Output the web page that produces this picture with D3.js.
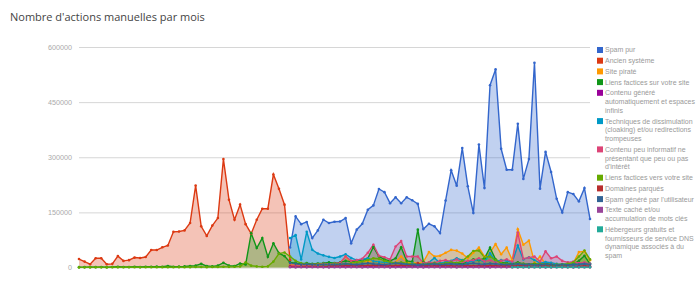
<!DOCTYPE html>
<html>
<head>
<meta charset="utf-8">
<script src="https://cdn.jsdelivr.net/npm/d3@7"></script>
<style>
    body { margin: 0; background: #fff; }
    svg text { font-family: Arial, "Liberation Sans", sans-serif; }
</style>
</head>
<body>
<script>
    // month index 0..92 (x axis is unlabeled in the original)
    const months = d3.range(93);
    const yTicks = [0, 150000, 300000, 450000, 600000];

    // series values, each starting at the month index given in `series` below
    const spamPur = [54500, 139000, 118000, 124000, 80000, 101000, 130000, 121000, 124500, 125000,
        134500, 66000, 103000, 119000, 157000, 169000, 213600, 205000, 175000, 191000,
        175000, 191000, 183000, 173000, 104500, 119000, 112000, 93600, 182000, 264500,
        222700, 325000, 221000, 148000, 334500, 216000, 496000, 539000, 323000, 266000,
        266000, 391000, 241000, 295000, 557000, 214500, 314500, 260000, 187000, 150000,
        205000, 200000, 180000, 216000, 132000];
    const ancienSysteme = [23000, 16000, 9000, 25000, 25000, 9000, 10000, 31000, 18000, 20000,
        27000, 26000, 28500, 47500, 47500, 55000, 60000, 97000, 98000, 101000,
        121000, 223000, 112000, 86000, 114000, 134500, 295000, 184500, 130000, 171000,
        118000, 92000, 130000, 160000, 160000, 253000, 214000, 171000, 20000];
    const sitePirate = [10000, 8000, 7000, 6000, 5000, 6000, 8000, 10000, 9000, 12000,
        30000, 12000, 15000, 18000, 15000, 20000, 14000, 12000, 10000, 15000,
        30000, 15000, 14000, 12000, 15000, 42000, 30000, 32000, 40000, 48000,
        46000, 38000, 25000, 40000, 54000, 30000, 40000, 64000, 36000, 54000,
        20000, 104000, 62000, 73000, 14000, 30000, 10000, 12000, 8000, 6000,
        10000, 12000, 42000, 44000, 20000];
    const liensSur = [1000, 1000, 1500, 1000, 1500, 1000, 1500, 2000, 1500, 1500,
        2000, 1500, 2000, 2000, 2500, 2000, 4000, 2000, 2500, 3000,
        4000, 5000, 10000, 4000, 3000, 5000, 13000, 5000, 4000, 11000,
        8000, 93000, 53000, 80000, 29000, 66000, 39000, 31000,
        14000, 12000, 10000, 12000, 10000, 11000, 12000, 14000, 12000, 14000,
        18000, 16000, 18000, 20000, 25000, 56000, 30000, 22000, 18000, 25000,
        55000, 18000, 16000, 103000, 15000, 10000, 12000, 10000, 12000, 14000,
        12000, 10000, 15000, 22000, 20000, 25000, 54000, 22000, 14000, 12000,
        10000, 14000, 10000, 8000, 10000, 8000, 10000, 8000, 6000, 7000,
        8000, 10000, 18000, 32000, 10000];
    const contenuGenere = [2000, 3000, 2500, 3000, 3500, 3000, 2500, 3000, 3500, 3000,
        4000, 3000, 3500, 4000, 3000, 4000, 5000, 4000, 3000, 3500,
        4000, 3000, 3500, 5000, 4000, 3000, 3500, 4000, 3000, 3500,
        3000, 4000, 3500, 3000, 4000, 3500, 3000, 4000, 3000, 3500,
        3000, 3500, 4000, 3000, 2500, 3000, 3500, 3000, 2500, 3000,
        2500, 3000, 2500, 3000, 2500];
    const dissimulation = [80000, 88000, 22000, 97000, 48000, 38000, 33000, 29000, 26000, 30000,
        36000, 26000, 20000, 22000, 25000, 18000, 15000, 14000, 12000, 13000,
        11000, 10000, 12000, 9000, 10000, 14000, 26000, 12000, 15000, 18000,
        25000, 20000, 14000, 18000, 22000, 15000, 39000, 17000, 20000, 18000,
        14000, 60000, 22000, 28000, 20000, 12000, 15000, 13000, 10000, 9000,
        10000, 8000, 9000, 12000, 10000];
    const contenuPeu = [5000, 6000, 8000, 7000, 8000, 9000, 10000, 9000, 11000, 13000,
        30000, 18000, 20000, 24000, 40000, 62000, 32000, 28000, 22000, 57000,
        72000, 30000, 30000, 30000, 12000, 14000, 13000, 18000, 20000, 16000,
        22000, 15000, 18000, 20000, 25000, 16000, 20000, 14000, 18000, 22000,
        16000, 95000, 24000, 27000, 30000, 16000, 44000, 25000, 30000, 18000,
        14000, 16000, 12000, 14000, 10000];
    const liensVers = [300, 400, 300, 500, 400, 300, 500, 400, 500, 600,
        500, 400, 600, 500, 700, 600, 800, 700, 900, 800,
        1000, 1200, 1500, 1000, 1200, 1500, 2000, 1800, 2000,
        3000, 14000, 5000, 3000, 2000, 3000, 16000, 38000, 41000,
        30000, 18000, 12000, 10000, 9000, 8000, 9000, 8000, 10000, 9000,
        10000, 12000, 14000, 16000, 20000, 25000, 24000, 18000, 15000, 12000,
        14000, 12000, 10000, 8000, 9000, 10000, 12000, 10000, 12000, 14000,
        12000, 18000, 30000, 45000, 46000, 28000, 30000, 20000, 12000, 10000,
        8000, 12000, 10000, 9000, 8000, 10000, 8000, 7000, 8000, 9000,
        10000, 14000, 30000, 46000, 22000];
    const domaines = [3000, 2000, 2500, 3000, 2000, 3000, 2500, 3000, 4000, 3000,
        5000, 4000, 3000, 4000, 5000, 6000, 4000, 3000, 4000, 5000,
        6000, 5000, 4000, 12000, 5000, 4000, 3000, 4000, 5000, 4000,
        3000, 4000, 5000, 4000, 3000, 4000, 5000, 4000, 3000, 4000,
        3000, 5000, 4000, 3000, 4000, 3000, 4000, 3000, 2000, 3000,
        3000, 2000, 3000, 4000, 3000];
    const spamUtilisateur = [12000, 10000, 8000, 9000, 8000, 7000, 8000, 9000, 8000, 9000,
        10000, 9000, 8000, 10000, 12000, 10000, 9000, 8000, 10000, 12000,
        11000, 9000, 8000, 7000, 8000, 9000, 10000, 8000, 9000, 10000,
        9000, 8000, 10000, 12000, 10000, 9000, 11000, 10000, 9000, 8000,
        9000, 10000, 8000, 9000, 7000, 8000, 9000, 8000, 7000, 8000,
        7000, 8000, 9000, 10000, 8000];
    const texteCache = [500, 300, 600, 400, 500, 700, 400, 300, 600, 500,
        400, 800, 500, 300, 600, 400, 700, 500, 300, 400,
        600, 500, 800, 400, 300, 500, 600, 400, 700, 500,
        300, 600, 400, 500, 700, 400, 300, 600, 500, 400,
        600, 300, 500, 400, 700, 500, 300, 400, 600, 500,
        400, 300, 600, 500, 400];
    const hebergeurs = [800, 1200, 600, 1000, 900, 700, 1100, 800, 600, 900, 700, 1000, 800, 600, 900];

    // legend labels, already split the way the original legend wraps them
    const series = [
        { name: ["Spam pur"], color: "#3366CC", start: 38, values: spamPur },
        { name: ["Ancien système"], color: "#DC3912", start: 0, values: ancienSysteme },
        { name: ["Site piraté"], color: "#FF9900", start: 38, values: sitePirate },
        { name: ["Liens factices sur votre site"], color: "#109618", start: 0, values: liensSur },
        { name: ["Contenu généré", "automatiquement et espaces", "infinis"], color: "#990099", start: 38, values: contenuGenere },
        { name: ["Techniques de dissimulation", "(cloaking) et/ou redirections", "trompeuses"], color: "#0099C6", start: 38, values: dissimulation },
        { name: ["Contenu peu informatif ne", "présentant que peu ou pas", "d'intérêt"], color: "#DD4477", start: 38, values: contenuPeu },
        { name: ["Liens factices vers votre site"], color: "#66AA00", start: 0, values: liensVers },
        { name: ["Domaines parqués"], color: "#B82E2E", start: 38, values: domaines },
        { name: ["Spam généré par l'utilisateur"], color: "#316395", start: 38, values: spamUtilisateur },
        { name: ["Texte caché et/ou", "accumulation de mots clés"], color: "#994499", start: 38, values: texteCache },
        { name: ["Hébergeurs gratuits et", "fournisseurs de service DNS", "dynamique associés à du", "spam"], color: "#22AA99", start: 78, values: hebergeurs }
    ];
    series.forEach(s => s.pts = s.values.map((v, k) => ({ i: months[s.start + k], v: v })));

    let width = 700, height = 284;
    let svg = d3.select("body").append("svg")
        .attr("width", width)
        .attr("height", height);

    let x = d3.scaleLinear().domain([0, months.length - 1]).range([79, 590]);
    let y = d3.scaleLinear().domain([0, 600000]).range([267.5, 47]);

    // title
    svg.append("text")
        .attr("x", 10).attr("y", 21)
        .style("font-family", "'Open Sans', sans-serif")
        .style("font-size", "11px")
        .attr("fill", "#444")
        .text("Nombre d'actions manuelles par mois");

    // y axis + gridlines
    let yAxis = svg.append("g")
        .attr("transform", "translate(79,0)")
        .call(d3.axisLeft(y).tickValues(yTicks).tickSize(-511).tickPadding(7).tickFormat(d3.format("d")));
    yAxis.select(".domain").remove();
    yAxis.selectAll("line").attr("stroke", "#d6d6d6");
    yAxis.selectAll("text").attr("fill", "#aaa").style("font-size", "7.2px").attr("font-family", null);

    let area = d3.area().x(d => x(d.i)).y0(y(0)).y1(d => y(d.v));
    let line = d3.line().x(d => x(d.i)).y(d => y(d.v));

    let plot = svg.append("g");
    // areas first, then lines, then points
    plot.selectAll("path.area").data(series).join("path")
        .attr("class", "area")
        .attr("d", s => area(s.pts))
        .attr("fill", s => s.color)
        .attr("fill-opacity", 0.3);
    plot.selectAll("path.line").data(series).join("path")
        .attr("class", "line")
        .attr("d", s => line(s.pts))
        .attr("fill", "none")
        .attr("stroke", s => s.color)
        .attr("stroke-width", 1.4);
    series.forEach(s => {
        plot.append("g").selectAll("circle").data(s.pts).join("circle")
            .attr("cx", d => x(d.i))
            .attr("cy", d => y(d.v))
            .attr("r", 1.3)
            .attr("fill", s.color);
    });

    // legend
    let legend = svg.append("g");
    let lineH = 8.8, gap = 10.7, fs = 7;
    let cy = 50;
    series.forEach(s => {
        legend.append("rect")
            .attr("x", 597).attr("y", cy - 3)
            .attr("width", 6).attr("height", 6)
            .attr("fill", s.color);
        s.name.forEach((l, k) => {
            legend.append("text")
                .attr("x", 605)
                .attr("y", cy + k * lineH + fs * 0.35)
                .style("font-size", fs + "px")
                .attr("fill", "#999")
                .text(l);
        });
        cy += (s.name.length - 1) * lineH + gap;
    });
</script>
</body>
</html>
